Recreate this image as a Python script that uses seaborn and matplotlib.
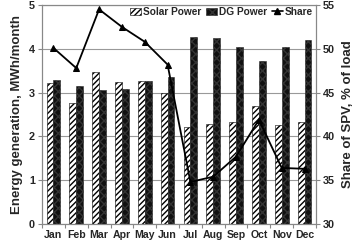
import numpy as np
import pandas as pd
import matplotlib
matplotlib.use("Agg")
from matplotlib import pyplot as plt
from matplotlib.patches import Patch
from matplotlib.lines import Line2D
import seaborn as sns

months = ["Jan", "Feb", "Mar", "Apr", "May", "Jun",
          "Jul", "Aug", "Sep", "Oct", "Nov", "Dec"]
solar = [3.22, 2.76, 3.48, 3.25, 3.26, 2.99, 2.22, 2.28, 2.34, 2.70, 2.26, 2.33]
dg = [3.28, 3.16, 3.05, 3.09, 3.27, 3.35, 4.28, 4.24, 4.03, 3.73, 4.05, 4.20]
share = [50.1, 47.8, 54.5, 52.5, 50.8, 48.2, 34.8, 35.4, 37.7, 41.9, 36.4, 36.3]

df = pd.DataFrame({
    "month": months * 2,
    "value": solar + dg,
    "series": ["Solar Power"] * 12 + ["DG Power"] * 12,
})

sns.set_theme(style="white")
plt.rcParams["font.family"] = ["Liberation Sans", "DejaVu Sans"]
plt.rcParams["font.weight"] = "bold"
plt.rcParams["hatch.linewidth"] = 1.0

fig = plt.figure(figsize=(3.55, 2.42), dpi=100)
ax = fig.add_axes([42 / 355, 1 - 224 / 242, 274 / 355, 219 / 242])

sns.barplot(data=df, x="month", y="value", hue="series",
            palette=["white", "#111111"], width=0.6, saturation=1,
            legend=False, ax=ax)

for p in ax.containers[0]:
    p.set_facecolor("white")
    p.set_edgecolor("black")
    p.set_hatch("//////")
    p.set_linewidth(0.4)
for p in ax.containers[1]:
    p.set_facecolor("#111111")
    p.set_edgecolor("#333333")
    p.set_hatch("xxxx")
    p.set_linewidth(0.4)

ax.set_xlim(-0.5, 11.5)
ax.set_ylim(0, 5)
ax.set_yticks(range(0, 6))
ax.yaxis.grid(True, color="#999999", linewidth=0.8)
ax.set_axisbelow(True)
ax.set_xlabel("")
ax.set_ylabel("Energy generation, MWh/month", fontsize=9.5, fontweight="bold", labelpad=4)
ax.set_xticks(np.arange(-0.5, 12, 1), minor=True)
ax.tick_params(axis="x", which="major", length=0, labelsize=7.6, pad=4)
ax.tick_params(axis="x", which="minor", length=3, direction="out", color="#888888", width=0.8, bottom=True)
ax.tick_params(axis="y", length=3, direction="out", color="#888888", width=0.8, labelsize=7.8, left=True, pad=2)

ax2 = ax.twinx()
sns.lineplot(x=np.arange(12), y=share, ax=ax2, color="black", marker="^",
             markersize=5, linewidth=1.3, markeredgecolor="black")
ax2.set_ylim(30, 55)
ax2.set_yticks(range(30, 56, 5))
ax2.set_ylabel("Share of SPV, % of load", fontsize=9.5, fontweight="bold", labelpad=5)
ax2.tick_params(axis="y", length=3, direction="out", color="#888888", width=0.8, labelsize=7.8, right=True, pad=2)
ax2.yaxis.set_label_position("right")

for a in (ax, ax2):
    for s in a.spines.values():
        s.set_color("#888888")
        s.set_linewidth(0.8)

for t in ax.get_xticklabels() + ax.get_yticklabels() + ax2.get_yticklabels():
    t.set_fontweight("bold")

handles = [
    Patch(facecolor="white", edgecolor="black", hatch="//////", linewidth=0.4),
    Patch(facecolor="#111111", edgecolor="#333333", hatch="xxxx", linewidth=0.4),
    Line2D([0], [0], color="black", marker="^", markersize=4, linewidth=1.2),
]
ax2.legend(handles, ["Solar Power", "DG Power", "Share"], ncol=3, loc="upper right",
           bbox_to_anchor=(1.01, 1.02), frameon=False,
           prop={"size": 7.3, "weight": "bold"}, handlelength=1.1, handleheight=0.7,
           handletextpad=0.15, columnspacing=0.5, borderaxespad=0.2)

fig.savefig("out.png", dpi=100)
